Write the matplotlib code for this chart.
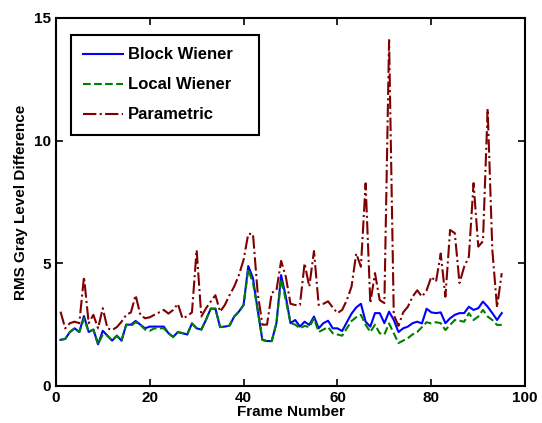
import matplotlib
matplotlib.use('Agg')
import matplotlib.pyplot as plt

plt.rcParams['font.family'] = ['Liberation Sans', 'DejaVu Sans']
plt.rcParams['font.weight'] = 'bold'

frames = list(range(1, 96))

block_wiener = [
    1.88, 1.92, 2.2, 2.35, 2.2, 2.85, 2.2, 2.3, 1.7, 2.25,
    2.05, 1.85, 2.05, 1.85, 2.5, 2.5, 2.65, 2.5, 2.35, 2.42,
    2.42, 2.42, 2.42, 2.15, 2.0, 2.2, 2.15, 2.1, 2.55, 2.35,
    2.3, 2.7, 3.15, 3.15, 2.4, 2.42, 2.46, 2.83, 3.03, 3.3,
    4.89, 4.4, 3.1, 1.88, 1.83, 1.83, 2.56, 4.52, 3.64, 2.56,
    2.69, 2.42, 2.62, 2.49, 2.83, 2.35, 2.56, 2.66, 2.35, 2.35,
    2.24, 2.6, 2.95, 3.2, 3.35, 2.62, 2.42, 2.97, 2.97, 2.56,
    3.03, 2.69, 2.2, 2.35, 2.42, 2.56, 2.62, 2.55, 3.15, 3.0,
    2.97, 3.0, 2.56, 2.76, 2.9, 2.97, 2.97, 3.23, 3.1, 3.17,
    3.44, 3.23, 2.97, 2.69, 2.97,
]

local_wiener = [
    1.88, 1.92, 2.2, 2.35, 2.2, 2.75, 2.2, 2.3, 1.7, 2.1,
    2.05, 1.85, 2.05, 1.85, 2.5, 2.45, 2.6, 2.5, 2.3, 2.25,
    2.35, 2.35, 2.35, 2.15, 2.0, 2.2, 2.15, 2.1, 2.55, 2.35,
    2.3, 2.7, 3.15, 3.15, 2.4, 2.42, 2.46, 2.83, 3.03, 3.3,
    4.75, 4.2, 3.1, 1.88, 1.83, 1.83, 2.56, 4.35, 3.5, 2.56,
    2.5, 2.35, 2.45, 2.4, 2.75, 2.2, 2.3, 2.4, 2.15, 2.1,
    2.05, 2.35, 2.65, 2.8, 2.9, 2.5, 2.2, 2.5, 2.15, 2.1,
    2.55, 2.15, 1.75, 1.85, 1.95, 2.1, 2.2, 2.4, 2.6, 2.55,
    2.6, 2.56, 2.28, 2.49, 2.69, 2.66, 2.62, 2.97, 2.69, 2.83,
    3.1, 2.83, 2.69, 2.49, 2.49,
]

parametric = [
    3.03, 2.35, 2.56, 2.62, 2.56, 4.45, 2.56, 2.9, 2.35, 3.17,
    2.35, 2.28, 2.4, 2.62, 2.9, 3.0, 3.7, 2.9, 2.76, 2.8,
    2.9, 3.0, 3.1, 2.95, 3.1, 3.35, 2.75, 2.85, 3.0, 5.54,
    2.83, 3.17, 3.44, 3.7, 3.03, 3.3, 3.7, 4.05, 4.52, 5.14,
    6.2, 6.2, 3.8, 2.5, 2.5, 3.8, 3.9, 5.1, 4.45, 3.35,
    3.3, 3.3, 5.0, 4.05, 5.5, 3.3, 3.35, 3.45, 3.2, 2.97,
    3.1, 3.5, 4.05, 5.4, 4.86, 8.26, 3.38, 4.6, 3.5, 3.38,
    14.1, 2.9, 2.45, 3.0, 3.23, 3.64, 3.9, 3.64, 3.9, 4.45,
    4.25, 5.4, 3.64, 6.36, 6.23, 4.2, 4.86, 5.27, 8.27, 5.68,
    5.9, 11.3, 5.54, 3.2, 4.6,
]

fig = plt.figure(figsize=(5.42, 4.23), dpi=100)
ax = fig.add_axes([0.103, 0.0875, 0.866, 0.87])

ax.plot(frames, block_wiener, '-', color='#0000ff', lw=1.5, label='Block Wiener')
ax.plot(frames, local_wiener, '--', color='#008000', lw=1.5, label='Local Wiener')
ax.plot(frames, parametric, '-.', color='#800000', lw=1.5, label='Parametric')

ax.set_xlim(0, 100)
ax.set_ylim(0, 15)
ax.set_xticks([0, 20, 40, 60, 80, 100])
ax.set_yticks([0, 5, 10, 15])
ax.tick_params(direction='in', top=True, right=True, labelsize=11, width=1.2, length=5)
for s in ax.spines.values():
    s.set_linewidth(1.5)

ax.set_xlabel('Frame Number', fontsize=11, fontweight='bold', labelpad=0)
ax.set_ylabel('RMS Gray Level Difference', fontsize=11, fontweight='bold', labelpad=4)

# legend box stretched to the width of the original one
leg = ax.legend(loc='upper left', bbox_to_anchor=(0.032, 0.954, 0.40, 0), mode='expand',
                fontsize=12, fancybox=False, edgecolor='black',
                framealpha=1, borderpad=0.75, labelspacing=0.9, handlelength=2.4,
                handletextpad=0.3, borderaxespad=0)
leg.get_frame().set_linewidth(1.5)

plt.savefig('out.png', dpi=100)
plt.close()
